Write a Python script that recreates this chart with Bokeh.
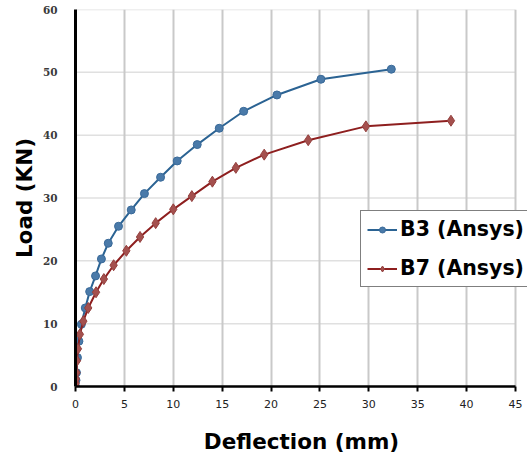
from bokeh.plotting import figure
from bokeh.models import Range1d, FixedTicker, Legend, LegendItem
from bokeh.embed import file_html
from bokeh.resources import INLINE

# Load-deflection results from the FE runs
b3_deflection = [0.0, 0.05, 0.1, 0.2, 0.35, 0.6, 1.0, 1.45, 2.05, 2.65, 3.35, 4.4,
                 5.7, 7.05, 8.7, 10.4, 12.45, 14.7, 17.2, 20.6, 25.1, 32.3]
b3_load = [0.0, 1.0, 2.2, 4.6, 7.2, 9.9, 12.5, 15.1, 17.6, 20.3, 22.8, 25.5,
           28.1, 30.7, 33.3, 35.9, 38.5, 41.1, 43.8, 46.4, 48.9, 50.5]

b7_deflection = [0.0, 0.02, 0.05, 0.1, 0.15, 0.25, 0.45, 0.8, 1.3, 2.1, 2.9, 3.9,
                 5.2, 6.6, 8.2, 10.0, 11.9, 14.0, 16.4, 19.3, 23.8, 29.7, 38.4]
b7_load = [0.0, 0.5, 1.2, 2.2, 4.1, 6.0, 8.3, 10.4, 12.5, 15.0, 17.1, 19.3,
           21.6, 23.8, 26.0, 28.2, 30.3, 32.6, 34.8, 36.9, 39.2, 41.4, 42.3]

x_ticks = [0, 5, 10, 15, 20, 25, 30, 35, 40, 45]
y_ticks = [0, 10, 20, 30, 40, 50, 60]
X_MAX, Y_MAX = 45, 60

BLUE_LINE, BLUE_FILL, BLUE_EDGE = "#2b6393", "#4a7aa9", "#3a6a99"
RED_LINE, RED_FILL, RED_EDGE = "#8e1f1f", "#a4504e", "#94403e"
TITLE_FONT = "DejaVu Sans"

# the frame runs a little past 45 so the legend can reach the page edge
p = figure(width=527, height=458, output_backend="svg", toolbar_location=None,
           x_range=Range1d(0, X_MAX * 452 / 440), y_range=Range1d(0, Y_MAX),
           min_border_left=75, min_border_right=0, min_border_top=9,
           min_border_bottom=72)
p.outline_line_color = None
p.background_fill_color = "white"
p.border_fill_color = "white"

# grid: vertical lines from the grid model, horizontal ones stop at x = 45
p.xgrid.ticker = FixedTicker(ticks=x_ticks)
p.xgrid.grid_line_color = "#c9c9c9"
p.xgrid.grid_line_width = 2
p.ygrid.grid_line_color = None
p.segment(x0=[0] * len(y_ticks), y0=y_ticks, x1=[X_MAX] * len(y_ticks), y1=y_ticks,
          line_color="#e0e0e0", line_width=1.5, level="underlay")

# x axis
xa = p.xaxis[0]
xa.ticker = FixedTicker(ticks=x_ticks)
xa.bounds = (0, X_MAX)
xa.axis_line_color = "black"
xa.axis_line_width = 2.5
xa.major_tick_line_color = "black"
xa.major_tick_line_width = 2
xa.major_tick_in = 0
xa.major_tick_out = 5
xa.minor_tick_line_color = None
xa.major_label_text_font = "DejaVu Sans"
xa.major_label_text_font_size = "11px"
xa.major_label_text_color = "#222222"
xa.major_label_standoff = 8
xa.axis_label = "Deflection (mm)"
xa.axis_label_text_font = TITLE_FONT
xa.axis_label_text_font_style = "bold"
xa.axis_label_text_font_size = "21.5px"
xa.axis_label_text_color = "black"
xa.axis_label_standoff = 18

# y axis
ya = p.yaxis[0]
ya.ticker = FixedTicker(ticks=y_ticks)
ya.axis_line_color = "black"
ya.axis_line_width = 3
ya.major_tick_line_color = None
ya.minor_tick_line_color = None
ya.major_label_text_font = "DejaVu Serif"
ya.major_label_text_font_style = "bold"
ya.major_label_text_font_size = "10.5px"
ya.major_label_text_color = "#3a3a3a"
ya.major_label_standoff = 12
ya.axis_label = "Load (KN)"
ya.axis_label_text_font = TITLE_FONT
ya.axis_label_text_font_style = "bold"
ya.axis_label_text_font_size = "21.5px"
ya.axis_label_text_color = "black"
ya.axis_label_standoff = 3

# series
b3_line = p.line(b3_deflection, b3_load, line_color=BLUE_LINE, line_width=2)
b3_pts = p.scatter(b3_deflection, b3_load, marker="circle", size=8,
                   fill_color=BLUE_FILL, line_color=BLUE_EDGE, line_width=1)
b7_line = p.line(b7_deflection, b7_load, line_color=RED_LINE, line_width=2)
b7_pts = p.scatter(b7_deflection, b7_load, marker="diamond", size=11,
                   fill_color=RED_FILL, line_color=RED_EDGE, line_width=1)

legend = Legend(items=[LegendItem(label="B3 (Ansys)", renderers=[b3_line, b3_pts]),
                       LegendItem(label="B7 (Ansys)", renderers=[b7_line, b7_pts])],
                location=(285, 99), orientation="vertical")
legend.label_text_font = TITLE_FONT
legend.label_text_font_style = "bold"
legend.label_text_font_size = "20.5px"
legend.label_text_color = "black"
legend.label_height = 15
legend.glyph_height = 15
legend.glyph_width = 30
legend.label_standoff = 3
legend.spacing = 15
legend.padding = 6
legend.margin = 0
legend.border_line_color = "black"
legend.border_line_width = 1
legend.background_fill_color = "white"
legend.background_fill_alpha = 1
p.add_layout(legend, "center")

open("out.html", "w").write(file_html(p, INLINE))
